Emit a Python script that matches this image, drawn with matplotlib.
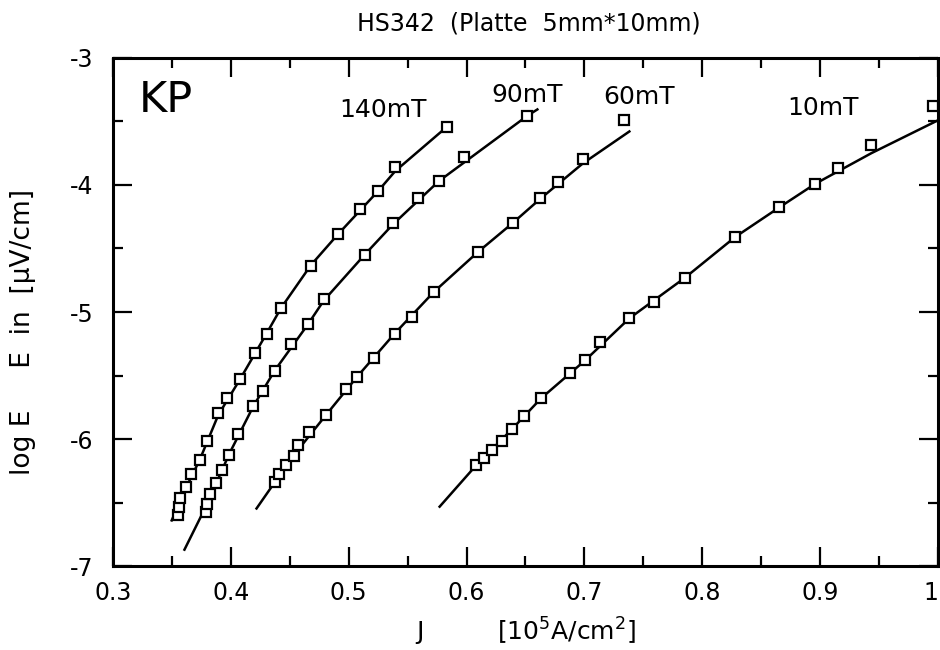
#!/usr/bin/env python3
"""
Replot of the E(J) curves for sample HS342 (plate 5mm x 10mm), KP.
Saves out.png.
"""

import matplotlib
matplotlib.use("Agg")
import matplotlib.pyplot as plt
from matplotlib.ticker import MultipleLocator

# measured points, J in 1e5 A/cm^2, log E
j_140 = [0.3552, 0.3560, 0.3566, 0.3623, 0.3660, 0.3739, 0.3796, 0.3895, 0.3972, 0.4079,
         0.4204, 0.4304, 0.4426, 0.4681, 0.4908, 0.5100, 0.5248, 0.5396, 0.5836]
e_140 = [-6.60, -6.535, -6.461, -6.378, -6.278, -6.163, -6.012, -5.795, -5.677, -5.528,
         -5.319, -5.170, -4.968, -4.634, -4.386, -4.187, -4.051, -3.860, -3.541]

j_90 = [0.3787, 0.3801, 0.3824, 0.3872, 0.3929, 0.3986, 0.4066, 0.4193, 0.4275, 0.4374,
        0.4511, 0.4653, 0.4789, 0.5135, 0.5376, 0.5589, 0.5765, 0.5980, 0.6516]
e_90 = [-6.574, -6.508, -6.43, -6.347, -6.247, -6.122, -5.959, -5.74, -5.62, -5.463,
        -5.249, -5.097, -4.90, -4.548, -4.302, -4.104, -3.967, -3.782, -3.455]

j_60 = [0.4374, 0.4411, 0.4468, 0.4533, 0.4567, 0.4667, 0.4809, 0.4979, 0.5072, 0.5214,
        0.5390, 0.5538, 0.5725, 0.6094, 0.6391, 0.6624, 0.6772, 0.6987, 0.7339]
e_60 = [-6.339, -6.278, -6.208, -6.135, -6.051, -5.947, -5.808, -5.606, -5.51, -5.363,
        -5.17, -5.037, -4.841, -4.529, -4.30, -4.103, -3.978, -3.795, -3.489]

j_10 = [0.6079, 0.6147, 0.6213, 0.6298, 0.6383, 0.6491, 0.6632, 0.6874, 0.7007, 0.7134,
        0.7381, 0.7589, 0.7853, 0.8278, 0.8647, 0.8959, 0.9155, 0.9433, 0.9957]
e_10 = [-6.208, -6.147, -6.085, -6.012, -5.925, -5.821, -5.68, -5.484, -5.379, -5.24,
        -5.05, -4.923, -4.731, -4.412, -4.176, -3.993, -3.868, -3.685, -3.379]

# fitted curves
fit_j_140 = [0.3495, 0.3623, 0.3739, 0.3895, 0.4079, 0.4304, 0.4426, 0.4681, 0.4908, 0.5248, 0.5396, 0.5836]
fit_e_140 = [-6.65, -6.38, -6.16, -5.81, -5.53, -5.17, -4.97, -4.63, -4.39, -4.05, -3.89, -3.54]

fit_j_90 = [0.3603, 0.3801, 0.3986, 0.4193, 0.4374, 0.4653, 0.4789, 0.5135, 0.5376, 0.5765, 0.6516, 0.6610]
fit_e_90 = [-6.88, -6.51, -6.12, -5.74, -5.46, -5.10, -4.91, -4.55, -4.31, -3.97, -3.455, -3.40]

fit_j_60 = [0.4213, 0.4374, 0.4533, 0.4809, 0.5072, 0.5390, 0.5725, 0.6094, 0.6391, 0.6624, 0.6987, 0.7390]
fit_e_60 = [-6.555, -6.34, -6.13, -5.81, -5.51, -5.17, -4.84, -4.53, -4.30, -4.11, -3.83, -3.573]

fit_j_10 = [0.5765, 0.6079, 0.6383, 0.6632, 0.7007, 0.7381, 0.7853, 0.8278, 0.8647, 0.8959, 0.9433, 1.0]
fit_e_10 = [-6.54, -6.21, -5.925, -5.68, -5.38, -5.05, -4.73, -4.41, -4.18, -3.99, -3.75, -3.49]

field_labels = ['140mT', '90mT', '60mT', '10mT']
label_pos = [(0.5290, -3.41), (0.6513, -3.29), (0.7463, -3.31), (0.9024, -3.39)]

x_ticks = [0.3, 0.4, 0.5, 0.6, 0.7, 0.8, 0.9, 1.0]
x_ticklabels = ['0.3', '0.4', '0.5', '0.6', '0.7', '0.8', '0.9', '1']
y_ticks = [-7, -6, -5, -4, -3]

plt.rcParams['font.family'] = ['DejaVu Sans']
plt.rcParams['axes.unicode_minus'] = False

fig = plt.figure(figsize=(9.4, 6.5), dpi=100)
ax = fig.add_axes([0.120, 0.1292, 0.878, 0.7816])

series = [(j_140, e_140, fit_j_140, fit_e_140),
          (j_90, e_90, fit_j_90, fit_e_90),
          (j_60, e_60, fit_j_60, fit_e_60),
          (j_10, e_10, fit_j_10, fit_e_10)]

for j, e, fj, fe in series:
    ax.plot(fj, fe, '-', color='black', linewidth=1.8, solid_capstyle='butt')
    ax.plot(j, e, 's', mfc='white', mec='black', mew=1.6, ms=6.8, linestyle='none')

for text, (x, y) in zip(field_labels, label_pos):
    ax.text(x, y, text, fontsize=18, ha='center', va='center')

ax.text(0.322, -3.33, 'KP', fontsize=31, ha='left', va='center')

ax.set_xlim(0.3, 1.0)
ax.set_ylim(-7, -3)
ax.set_xticks(x_ticks)
ax.set_xticklabels(x_ticklabels)
ax.set_yticks(y_ticks)
ax.xaxis.set_minor_locator(MultipleLocator(0.05))
ax.yaxis.set_minor_locator(MultipleLocator(0.5))
ax.tick_params(which='both', direction='in', top=True, right=True, width=1.6, labelsize=17)
ax.tick_params(which='major', length=14)
ax.tick_params(which='minor', length=7)
ax.tick_params(axis='x', pad=11)
ax.tick_params(axis='y', pad=14)
# last label "1" sits at the right edge, keep it inside the picture
ax.get_xticklabels()[-1].set_horizontalalignment('right')
for sp in ax.spines.values():
    sp.set_linewidth(2.2)

fig.text(0.563, 0.964, 'HS342  (Platte  5mm*10mm)', fontsize=17, ha='center', va='center')
fig.text(0.447, 0.028, 'J', fontsize=18, ha='center', va='center')
fig.text(0.603, 0.028, '[10$^5$A/cm$^2$]', fontsize=18, ha='center', va='center')
fig.text(0.024, 0.489, 'log E     E  in  [μV/cm]', fontsize=19, rotation=90, ha='center', va='center')

plt.savefig('out.png', dpi=100)
plt.close()
print("Saved: out.png")
